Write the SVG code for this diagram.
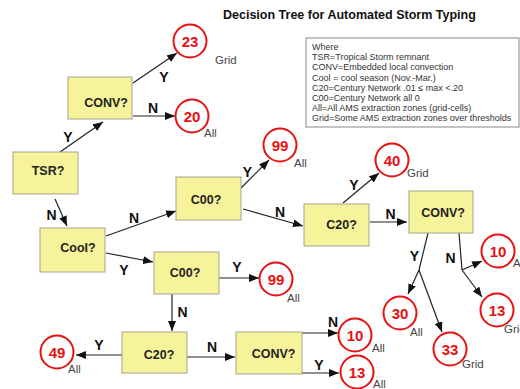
<svg xmlns="http://www.w3.org/2000/svg" width="520" height="389" viewBox="0 0 520 389">
<defs>
<marker id="ah" markerUnits="userSpaceOnUse" markerWidth="11" markerHeight="8" refX="10" refY="4" orient="auto">
<path d="M0,0 L10,4 L0,8 z" fill="#111"/>
</marker>
<style>
.box{fill:#f7f39b;stroke:#a4a48c;stroke-width:1}
.nt{font-family:"Liberation Sans",Arial,sans-serif;font-weight:bold;font-size:12.5px;fill:#222;text-anchor:middle}
.circ{fill:#fff;stroke:#e81010;stroke-width:2}
.num{font-family:"Liberation Sans",Arial,sans-serif;font-weight:bold;font-size:15px;fill:#e81010;text-anchor:middle}
.sm{font-family:"Liberation Sans",Arial,sans-serif;font-size:11.5px;fill:#444}
.yn{font-family:"Liberation Sans",Arial,sans-serif;font-weight:bold;font-size:14px;fill:#111;text-anchor:middle}
.ln{stroke:#222;stroke-width:1.2;fill:none}
.ar{stroke:#222;stroke-width:1.2;fill:none;marker-end:url(#ah)}
.lg{font-family:"Liberation Sans",Arial,sans-serif;font-size:9px;fill:#333}
.title{font-family:"Liberation Sans",Arial,sans-serif;font-weight:bold;font-size:12.5px;fill:#111}
</style>
</defs>
<rect width="520" height="389" fill="#fff"/>
<text class="title" x="223" y="19">Decision Tree for Automated Storm Typing</text>
<g id="legend">
<rect x="306" y="38" width="213" height="89" fill="#fff" stroke="#888" stroke-width="1"/>
<text class="lg" x="312" y="50">Where</text>
<text class="lg" x="312" y="60.2">TSR=Tropical Storm remnant</text>
<text class="lg" x="312" y="70.4">CONV=Embedded local convection</text>
<text class="lg" x="312" y="80.6">Cool = cool season (Nov.-Mar.)</text>
<text class="lg" x="312" y="90.8">C20=Century Network .01 ≤ max &lt;.20</text>
<text class="lg" x="312" y="101">C00=Century Network all 0</text>
<text class="lg" x="312" y="111.2">All=All AMS extraction zones (grid-cells)</text>
<text class="lg" x="312" y="121.4">Grid=Some AMS extraction zones over thresholds</text>
</g>
<g id="connectors">
<line class="ar" x1="60" y1="152" x2="103" y2="122"/>
<line class="ar" x1="133" y1="83" x2="177" y2="53"/>
<line class="ar" x1="133" y1="116" x2="175" y2="116"/>
<line class="ar" x1="55" y1="199" x2="67" y2="226"/>
<line class="ar" x1="106" y1="236" x2="176" y2="211"/>
<line class="ar" x1="106" y1="253" x2="153" y2="262"/>
<line class="ar" x1="241" y1="188" x2="269" y2="160"/>
<line class="ar" x1="243" y1="209" x2="303" y2="226"/>
<line class="ar" x1="343" y1="203" x2="379" y2="173"/>
<line class="ar" x1="370" y1="222" x2="407" y2="222"/>
<line class="ln" x1="428" y1="233" x2="419" y2="270"/>
<line class="ar" x1="419" y1="270" x2="408" y2="294"/>
<line class="ar" x1="419" y1="270" x2="442" y2="332"/>
<line class="ln" x1="459" y1="233" x2="462" y2="270"/>
<line class="ar" x1="462" y1="270" x2="482" y2="261"/>
<line class="ar" x1="462" y1="270" x2="482" y2="297"/>
<line class="ar" x1="219" y1="278" x2="259" y2="278"/>
<line class="ar" x1="172" y1="294" x2="172" y2="331"/>
<line class="ar" x1="122" y1="355" x2="76" y2="355"/>
<line class="ar" x1="187" y1="357" x2="235" y2="357"/>
<line class="ar" x1="302" y1="333" x2="338" y2="333"/>
<line class="ar" x1="302" y1="373" x2="339" y2="373"/>
<text class="yn" x="68" y="142">Y</text>
<text class="yn" x="164" y="82">Y</text>
<text class="yn" x="153" y="113">N</text>
<text class="yn" x="51.5" y="220">N</text>
<text class="yn" x="134" y="223">N</text>
<text class="yn" x="124" y="275">Y</text>
<text class="yn" x="247.5" y="177">Y</text>
<text class="yn" x="280" y="217">N</text>
<text class="yn" x="354" y="190">Y</text>
<text class="yn" x="390.5" y="219">N</text>
<text class="yn" x="414.5" y="261">Y</text>
<text class="yn" x="450.5" y="263">N</text>
<text class="yn" x="237" y="272">Y</text>
<text class="yn" x="182.5" y="317">N</text>
<text class="yn" x="99" y="350">Y</text>
<text class="yn" x="212" y="352">N</text>
<text class="yn" x="333" y="327">N</text>
<text class="yn" x="319" y="370">Y</text>
</g>
<g id="n-tsr"><rect class="box" x="13" y="152" width="65" height="42"/><text class="nt" x="48" y="175">TSR?</text></g>
<g id="n-conv1"><rect class="box" x="68" y="77" width="64" height="42"/><text class="nt" x="106" y="106.5">CONV?</text></g>
<g id="n-cool"><rect class="box" x="40" y="228" width="65" height="44"/><text class="nt" x="78" y="252">Cool?</text></g>
<g id="n-c00a"><rect class="box" x="176" y="177" width="65" height="43"/><text class="nt" x="206" y="203.5">C00?</text></g>
<g id="n-c20a"><rect class="box" x="304" y="204" width="65" height="42"/><text class="nt" x="341.5" y="229">C20?</text></g>
<g id="n-conv2"><rect class="box" x="409" y="191" width="64" height="42"/><text class="nt" x="443" y="217">CONV?</text></g>
<g id="n-c00b"><rect class="box" x="154" y="252" width="65" height="42"/><text class="nt" x="185" y="277">C00?</text></g>
<g id="n-c20b"><rect class="box" x="122" y="332" width="65" height="41"/><text class="nt" x="159" y="359">C20?</text></g>
<g id="n-conv3"><rect class="box" x="236" y="332" width="66" height="42"/><text class="nt" x="273.5" y="357.5">CONV?</text></g>
<g id="o-23"><circle class="circ" cx="190" cy="41" r="16.5"/><text class="num" x="190" y="46.5">23</text><text class="sm" x="215" y="64">Grid</text></g>
<g id="o-20"><circle class="circ" cx="192" cy="116" r="16.5"/><text class="num" x="192" y="121.5">20</text><text class="sm" x="204" y="137">All</text></g>
<g id="o-99a"><circle class="circ" cx="280" cy="145" r="16.5"/><text class="num" x="280" y="150.5">99</text><text class="sm" x="294" y="167">All</text></g>
<g id="o-40"><circle class="circ" cx="392" cy="160" r="16.5"/><text class="num" x="392" y="165.5">40</text><text class="sm" x="407" y="177">Grid</text></g>
<g id="o-99b"><circle class="circ" cx="276" cy="279" r="16.5"/><text class="num" x="276" y="284.5">99</text><text class="sm" x="287" y="302">All</text></g>
<g id="o-10a"><circle class="circ" cx="498" cy="251" r="16.5"/><text class="num" x="498" y="256.5">10</text><text class="sm" x="513" y="267">All</text></g>
<g id="o-13a"><circle class="circ" cx="497" cy="310" r="16.5"/><text class="num" x="497" y="315.5">13</text><text class="sm" x="504" y="333">Grid</text></g>
<g id="o-30"><circle class="circ" cx="400" cy="313" r="16.5"/><text class="num" x="400" y="318.5">30</text><text class="sm" x="410" y="336">All</text></g>
<g id="o-33"><circle class="circ" cx="450" cy="349" r="16.5"/><text class="num" x="450" y="354.5">33</text><text class="sm" x="462" y="368">Grid</text></g>
<g id="o-10b"><circle class="circ" cx="355" cy="335" r="16.5"/><text class="num" x="355" y="340.5">10</text><text class="sm" x="372" y="352">All</text></g>
<g id="o-13b"><circle class="circ" cx="357" cy="372" r="16.5"/><text class="num" x="357" y="377.5">13</text><text class="sm" x="373" y="388">All</text></g>
<g id="o-49"><circle class="circ" cx="57" cy="352" r="16.5"/><text class="num" x="57" y="357.5">49</text><text class="sm" x="68" y="373">All</text></g>
</svg>
